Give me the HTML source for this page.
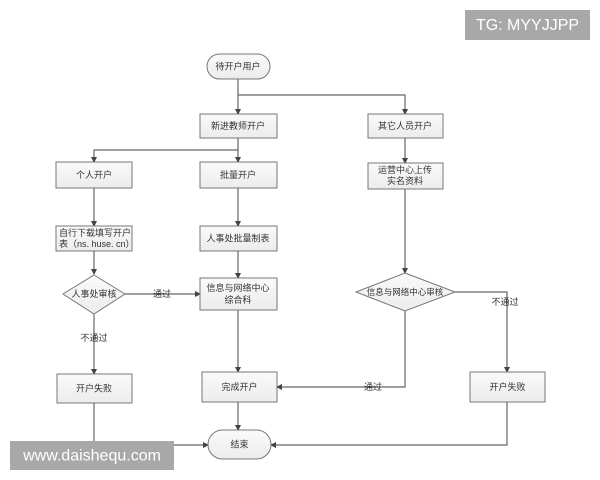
<!DOCTYPE html>
<html><head><meta charset="utf-8"><style>
html,body{margin:0;padding:0;background:#fff;width:600px;height:480px;overflow:hidden}
svg text{font-family:"Liberation Sans","Noto Sans CJK SC",sans-serif;font-size:9px;fill:#333;text-anchor:middle;dominant-baseline:central}
</style></head><body>
<svg width="600" height="480" viewBox="0 0 600 480" xmlns="http://www.w3.org/2000/svg">
<defs>
<linearGradient id="g" x1="0" y1="0" x2="0" y2="1"><stop offset="0" stop-color="#fafafa"/><stop offset="1" stop-color="#ececec"/></linearGradient>
<marker id="a" markerWidth="6" markerHeight="6" refX="5" refY="3" orient="auto" markerUnits="userSpaceOnUse"><path d="M0,0 L6,3 L0,6 z" fill="#444"/></marker>
</defs>
<g fill="none" stroke="#666" stroke-width="1.2">
<path d="M238 79 V114" marker-end="url(#a)"/>
<path d="M238 95 H405 V114" marker-end="url(#a)"/>
<path d="M238 138 V162" marker-end="url(#a)"/>
<path d="M238 150 H94 V162" marker-end="url(#a)"/>
<path d="M94 188 V226" marker-end="url(#a)"/>
<path d="M238 188 V226" marker-end="url(#a)"/>
<path d="M94 251 V274" marker-end="url(#a)"/>
<path d="M238 251 V278" marker-end="url(#a)"/>
<path d="M125 294 H200" marker-end="url(#a)"/>
<path d="M94 314 V374" marker-end="url(#a)"/>
<path d="M238 310 V372" marker-end="url(#a)"/>
<path d="M405 138 V163" marker-end="url(#a)"/>
<path d="M405 189 V273" marker-end="url(#a)"/>
<path d="M455 292 H507 V372" marker-end="url(#a)"/>
<path d="M405 311 V387 H277" marker-end="url(#a)"/>
<path d="M238 402 V430" marker-end="url(#a)"/>
<path d="M94 403 V445 H208" marker-end="url(#a)"/>
<path d="M507 402 V445 H271" marker-end="url(#a)"/>
</g>
<g fill="url(#g)" stroke="#777" stroke-width="1">
<rect x="207" y="54" width="63" height="25" rx="12.5"/>
<rect x="200" y="114" width="77" height="24"/>
<rect x="56" y="162" width="76" height="26"/>
<rect x="200" y="162" width="77" height="26"/>
<rect x="56" y="226" width="76" height="25"/>
<rect x="200" y="226" width="77" height="25"/>
<polygon points="94,275 125,294 94,314 63,294"/>
<rect x="200" y="278" width="77" height="32"/>
<rect x="57" y="374" width="75" height="29"/>
<rect x="202" y="372" width="75" height="30"/>
<rect x="208" y="430" width="63" height="29" rx="14.5"/>
<rect x="368" y="114" width="75" height="24"/>
<rect x="368" y="163" width="75" height="26"/>
<polygon points="405,273 455,292 405,311 356,292"/>
<rect x="470" y="372" width="75" height="30"/>
</g>
<text x="238" y="66.5">待开户用户</text>
<text x="238" y="126">新进教师开户</text>
<text x="94" y="175">个人开户</text>
<text x="238" y="175">批量开户</text>
<text x="94" y="233" style="text-anchor:start" transform="translate(-35 0)">自行下载填写开户</text>
<text x="59" y="244" style="text-anchor:start">表（ns. huse. cn）</text>
<text x="238" y="238.5">人事处批量制表</text>
<text x="94" y="294">人事处审核</text>
<text x="162" y="294" style="font-size:9px">通过</text>
<text x="238" y="288">信息与网络中心</text>
<text x="238" y="300">综合科</text>
<text x="94" y="338">不通过</text>
<text x="94" y="388.5">开户失败</text>
<text x="239.5" y="387">完成开户</text>
<text x="239.5" y="444.5">结束</text>
<text x="405" y="126">其它人员开户</text>
<text x="405" y="170">运营中心上传</text>
<text x="405" y="181">实名资料</text>
<text x="405" y="292" style="font-size:8.5px">信息与网络中心审核</text>
<text x="505" y="302">不通过</text>
<text x="373" y="387">通过</text>
<text x="507.5" y="387">开户失败</text>
<rect x="465" y="10" width="125" height="30" fill="#a8a8a8"/>
<text x="527.5" y="25.5" style="font-size:16px;fill:#fff">TG: MYYJJPP</text>
<rect x="10" y="441" width="164" height="29" fill="#a8a8a8"/>
<text x="92" y="456" style="font-size:16px;fill:#fff">www.daishequ.com</text>
</svg>
</body></html>
